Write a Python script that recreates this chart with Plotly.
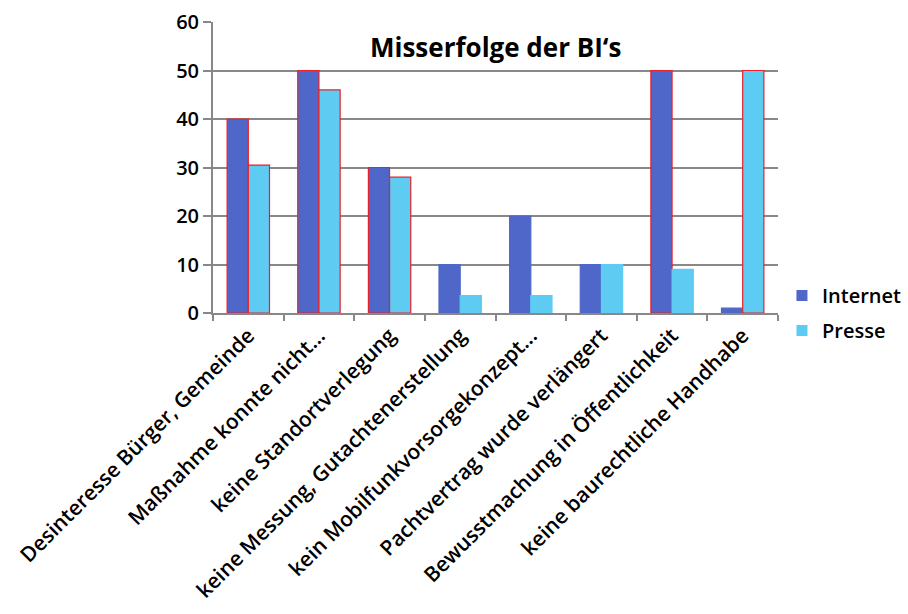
import plotly.graph_objects as go

categories = [
    "Desinteresse Bürger, Gemeinde",
    "Maßnahme konnte nicht...",
    "keine Standortverlegung",
    "keine Messung, Gutachtenerstellung",
    "kein Mobilfunkvorsorgekonzept...",
    "Pachtvertrag wurde verlängert",
    "Bewusstmachung in Öffentlichkeit",
    "keine baurechtliche Handhabe",
]
internet = [40, 50, 30, 10, 20, 10, 50, 1]
presse = [30.5, 46, 28, 3.6, 3.6, 10, 9, 50]
internet_outlined = [True, True, True, False, False, False, True, False]
presse_outlined = [True, True, True, False, False, False, False, True]

FONT = "Open Sans"
RED = "#e8202a"
C_INT = "#4f67c8"
C_PRE = "#5ecbf2"

fig = go.Figure()
fig.add_trace(go.Bar(
    x=categories, y=internet, name="Internet", showlegend=False,
    marker=dict(color=C_INT,
                line=dict(color=[RED if o else C_INT for o in internet_outlined], width=1.2)),
))
fig.add_trace(go.Bar(
    x=categories, y=presse, name="Presse", showlegend=False,
    marker=dict(color=C_PRE,
                line=dict(color=[RED if o else C_PRE for o in presse_outlined], width=1.2)),
))
# legend-only entries (small square swatches without outline)
for nm, col, grp in [("Internet", C_INT, "a"), ("Presse", C_PRE, "b")]:
    fig.add_trace(go.Scatter(x=[None], y=[None], name=nm, legendgroup=grp, mode="markers",
                             marker=dict(color=col, symbol="square", size=11, line=dict(width=0)),
                             showlegend=True, hoverinfo="skip"))

fig.update_layout(
    width=908, height=614,
    margin=dict(l=213, r=130, t=22, b=301, autoexpand=False),
    paper_bgcolor="white", plot_bgcolor="white",
    barmode="group", bargap=0.4, bargroupgap=0,
    font=dict(family=FONT, size=20, color="black", weight=600),
    showlegend=True,
    legend=dict(x=1.007, y=0.0, xanchor="left", yanchor="middle",
                font=dict(size=20, weight=600), itemwidth=30, tracegroupgap=6),
    annotations=[dict(text="<b>Misserfolge der BI‘s</b>", x=0.5, y=0.915,
                      xref="paper", yref="paper", showarrow=False,
                      xanchor="center", yanchor="middle",
                      font=dict(size=26, family=FONT, weight=700))],
)
fig.update_xaxes(
    type="category", tickangle=-45, showline=True, linecolor="#888888", linewidth=2,
    ticks="outside", tickson="boundaries", ticklen=6, tickcolor="#888888", tickwidth=2,
    tickfont=dict(size=21, weight=600), showgrid=False, automargin=False,
)
fig.update_yaxes(
    range=[0, 60], dtick=10, showline=True, linecolor="#888888", linewidth=2,
    ticks="outside", ticklen=8, tickcolor="#888888", tickwidth=2,
    showgrid=True, gridcolor="#888888", gridwidth=2, tickfont=dict(size=20, weight=600),
    zeroline=False, automargin=False,
)

fig.write_html("out.html")
